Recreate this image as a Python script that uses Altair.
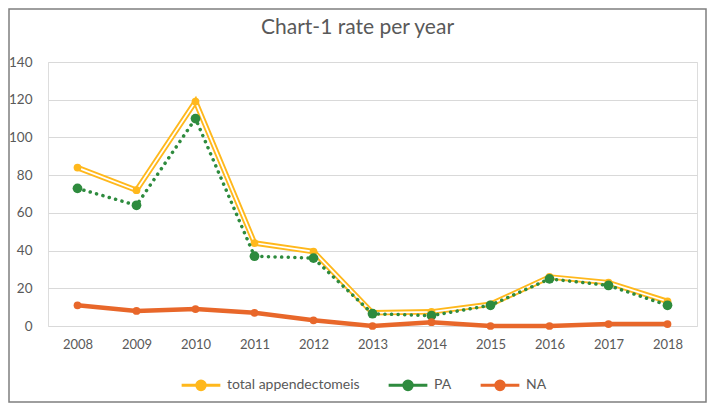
import altair as alt
import pandas as pd

years = ["2008", "2009", "2010", "2011", "2012", "2013", "2014", "2015", "2016", "2017", "2018"]
total = [84, 72, 119, 44, 39.5, 7, 7.5, 11.5, 26, 23, 13]
pa = [73, 64, 110, 37, 36, 6.5, 5.5, 11, 25, 21.5, 11]
na = [11, 8, 9, 7, 3, 0, 2, 0, 0, 1, 1]
series_names = ["total appendectomeis", "PA", "NA"]
series_colors = ["#FFB81C", "#2E8B3E", "#E8672A"]

rows = []
for name, vals in zip(series_names, [total, pa, na]):
    for y, v in zip(years, vals):
        rows.append({"year": y, "value": v, "series": name})
df = pd.DataFrame(rows)

W, H = 649, 264
FONT = "Lato"

x_enc = alt.X("year:O", scale=alt.Scale(type="point", padding=0.5),
              axis=alt.Axis(title=None, labelAngle=0, ticks=False, domain=False,
                            labelPadding=12, labelFontSize=13, labelColor="#595959",
                            labelFont=FONT, grid=False))
y_enc = alt.Y("value:Q", scale=alt.Scale(domain=[0, 140], nice=False),
              axis=alt.Axis(title=None, values=[0, 20, 40, 60, 80, 100, 120, 140],
                            ticks=False, domain=False, labelPadding=16, labelFontSize=13.5,
                            labelColor="#595959", labelFont=FONT, grid=True,
                            gridColor="#D9D9D9", gridWidth=1))

legend_path = "M-1,0H-0.22 M0.22,0H1 M0.22,0A0.22,0.22 0 1,1 -0.22,0A0.22,0.22 0 1,1 0.22,0Z"
color_enc = alt.Color("series:N",
                      scale=alt.Scale(domain=series_names, range=series_colors),
                      legend=alt.Legend(title=None, orient="none", direction="horizontal",
                                        legendX=132, legendY=302, symbolType=legend_path,
                                        symbolSize=1500, symbolStrokeWidth=3,
                                        labelFontSize=14, labelColor="#595959",
                                        labelFont=FONT, columnPadding=22, labelOffset=5))

base = alt.Chart(df).encode(x=x_enc, y=y_enc, color=color_enc)

tot = base.transform_filter(alt.datum.series == "total appendectomeis")
pas = base.transform_filter(alt.datum.series == "PA")
nas = base.transform_filter(alt.datum.series == "NA")

tot_outer = tot.mark_line(strokeWidth=5.5)
tot_inner = alt.Chart(df).transform_filter(
    alt.datum.series == "total appendectomeis"
).mark_line(strokeWidth=1.8, color="white").encode(x=x_enc, y=y_enc)
tot_pts = tot.mark_circle(size=60, opacity=1)

pa_line = pas.mark_line(strokeWidth=3.5, strokeDash=[0.1, 6.5], strokeCap="round")
pa_pts = pas.mark_circle(size=95, opacity=1)

na_line = nas.mark_line(strokeWidth=4.5)
na_pts = nas.mark_circle(size=60, opacity=1)

frame = alt.Chart(pd.DataFrame({"a": [0]})).mark_rect(
    fill=None, stroke="#7F7F7F", strokeWidth=1.5
).encode(x=alt.value(-39), x2=alt.value(W + 9), y=alt.value(-53), y2=alt.value(H + 76))

chart = alt.layer(
    frame, tot_outer, tot_inner, tot_pts, pa_line, pa_pts, na_line, na_pts
).properties(
    width=W, height=H,
    title=alt.TitleParams("Chart-1 rate per year", fontSize=21, font=FONT,
                          fontWeight="normal", color="#595959", anchor="middle",
                          frame="group", offset=-30, dx=-15),
    autosize=alt.AutoSizeParams(type="none"),
    padding={"left": 40, "top": 54, "right": 10, "bottom": 77},
).configure_view(stroke=None).configure(background="white")

chart.save("out.html", embed_options={"renderer": "svg", "actions": False})
